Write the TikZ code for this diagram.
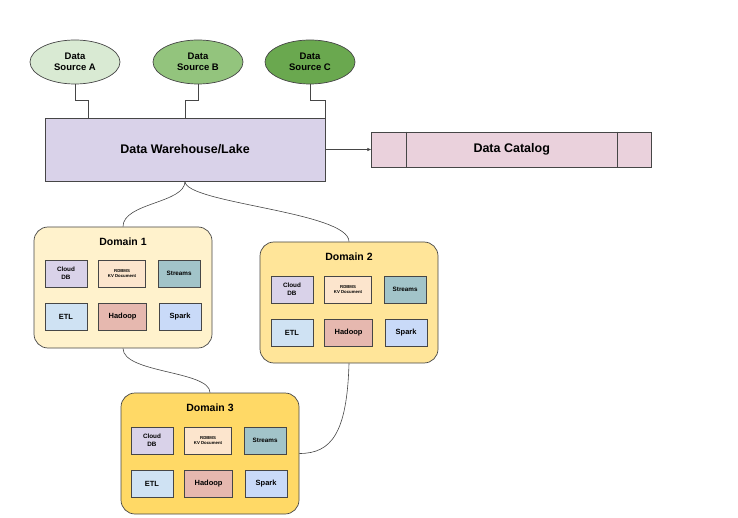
\documentclass[tikz,border=0pt]{standalone}
\usepackage{fontspec}
\setmainfont{Liberation Sans}
\usepackage{tikz}
\usetikzlibrary{arrows.meta,positioning,shapes.geometric}
\definecolor{dsLine}{RGB}{70,70,70}
\definecolor{srcLight}{RGB}{217,234,211}
\definecolor{srcMid}{RGB}{147,196,125}
\definecolor{srcDark}{RGB}{106,168,79}
\definecolor{dwFill}{RGB}{217,210,233}
\definecolor{catFill}{RGB}{234,209,220}
\definecolor{domLight}{RGB}{255,242,204}
\definecolor{domMid}{RGB}{255,229,153}
\definecolor{domDark}{RGB}{255,217,102}
\definecolor{cloudFill}{RGB}{217,210,233}
\definecolor{rdbmsFill}{RGB}{252,229,205}
\definecolor{streamFill}{RGB}{162,196,201}
\definecolor{etlFill}{RGB}{207,226,243}
\definecolor{hadoopFill}{RGB}{230,184,175}
\definecolor{sparkFill}{RGB}{201,218,248}

\begin{document}
\begin{tikzpicture}[
  x=1pt, y=-1pt,
  src/.style={ellipse, draw=dsLine, line width=0.7pt, inner sep=0pt, minimum width=90pt, minimum height=44pt, align=center, font=\fontsize{9.5}{11.5}\selectfont\bfseries},
  wbox/.style={draw=dsLine, line width=0.7pt, inner sep=0pt, minimum width=280pt, align=center, font=\fontsize{12.5}{15}\selectfont\bfseries},
  dombox/.style={draw=dsLine, line width=0.7pt, rounded corners=14pt, minimum width=178pt, minimum height=121pt, inner sep=0pt},
  dtitle/.style={font=\fontsize{10.5}{12}\selectfont\bfseries},
  toolbox/.style={draw=dsLine, line width=0.6pt, inner sep=0pt, minimum width=42pt, minimum height=27pt, align=center, font=\fontsize{7.5}{9}\selectfont\bfseries},
  toolsm/.style={toolbox, font=\fontsize{6.3}{7.5}\selectfont\bfseries},
  toolxs/.style={toolbox, minimum width=47pt, font=\fontsize{4.3}{5}\selectfont\bfseries},
  link/.style={draw=dsLine, line width=0.6pt},
  arr/.style={-{Latex[length=4pt,width=3.5pt]}, draw=dsLine, line width=0.6pt}
]
\useasboundingbox (0,0) rectangle (738,518);

% sources and warehouse
\node[src, fill=srcLight] (srcA) at (75,62) {Data\\Source A};
\node[src, fill=srcMid] (srcB) at (198,62) {Data\\Source B};
\node[src, fill=srcDark] (srcC) at (310,62) {Data\\Source C};
\node[wbox, fill=dwFill, minimum height=63pt] (dw) at (185,149.5) {Data Warehouse/Lake};
\node[wbox, fill=catFill, minimum height=35pt, right=46pt of dw] (cat) {Data Catalog};
\draw[link] ([xshift=35pt]cat.north west) -- ([xshift=35pt]cat.south west);
\draw[link] ([xshift=-35pt]cat.north east) -- ([xshift=-35pt]cat.south east);

\draw[link] (srcA.south) -- ++(0,16) -| ([xshift=44pt]dw.north west);
\draw[link] (srcB.south) -- ++(0,16) -| (dw.north);
\draw[link] (srcC.south) -- ++(0,16) -| (dw.north east);
\draw[arr] (dw.east) -- (cat.west);

% domain 1
\node[dombox, fill=domLight] (d1) at (123,287.5) {};
\node[dtitle] (d1title) at ([yshift=-15pt]d1.north) {Domain 1};
\node[toolsm, fill=cloudFill, below right=33pt and 11pt of d1.north west] (d1cloud) {Cloud\\DB};
\node[toolxs, fill=rdbmsFill, right=11pt of d1cloud] (d1rdbms) {RDBMS\\KV Document};
\node[toolsm, fill=streamFill, right=12pt of d1rdbms] (d1streams) {Streams};
\node[toolbox, fill=etlFill, below=16pt of d1cloud] (d1etl) {ETL};
\node[toolbox, fill=hadoopFill, minimum width=48pt, right=11pt of d1etl] (d1hadoop) {Hadoop};
\node[toolbox, fill=sparkFill, right=12pt of d1hadoop] (d1spark) {Spark};

% domain 2
\node[dombox, fill=domMid] (d2) at (349,302.5) {};
\node[dtitle] (d2title) at ([yshift=-15pt]d2.north) {Domain 2};
\node[toolsm, fill=cloudFill, below right=34pt and 11pt of d2.north west] (d2cloud) {Cloud\\DB};
\node[toolxs, fill=rdbmsFill, right=11pt of d2cloud] (d2rdbms) {RDBMS\\KV Document};
\node[toolsm, fill=streamFill, right=12pt of d2rdbms] (d2streams) {Streams};
\node[toolbox, fill=etlFill, below=16pt of d2cloud] (d2etl) {ETL};
\node[toolbox, fill=hadoopFill, minimum width=48pt, right=11pt of d2etl] (d2hadoop) {Hadoop};
\node[toolbox, fill=sparkFill, right=12pt of d2hadoop] (d2spark) {Spark};

% domain 3
\node[dombox, fill=domDark] (d3) at (210,453.5) {};
\node[dtitle] (d3title) at ([yshift=-15pt]d3.north) {Domain 3};
\node[toolsm, fill=cloudFill, below right=34pt and 10pt of d3.north west] (d3cloud) {Cloud\\DB};
\node[toolxs, fill=rdbmsFill, right=11pt of d3cloud] (d3rdbms) {RDBMS\\KV Document};
\node[toolsm, fill=streamFill, right=12pt of d3rdbms] (d3streams) {Streams};
\node[toolbox, fill=etlFill, below=16pt of d3cloud] (d3etl) {ETL};
\node[toolbox, fill=hadoopFill, minimum width=48pt, right=11pt of d3etl] (d3hadoop) {Hadoop};
\node[toolbox, fill=sparkFill, right=12pt of d3hadoop] (d3spark) {Spark};

% links between domains
\draw[link] (dw.south) .. controls +(0,22) and +(0,-24) .. (d1.north);
\draw[link] (dw.south) .. controls +(0,22) and +(0,-30) .. (d2.north);
\draw[link] (d1.south) .. controls +(0,25) and +(0,-22) .. (d3.north);
\draw[link] (d2.south) .. controls +(-2,70) and +(32,0) .. (d3.east);
\end{tikzpicture}
\end{document}
